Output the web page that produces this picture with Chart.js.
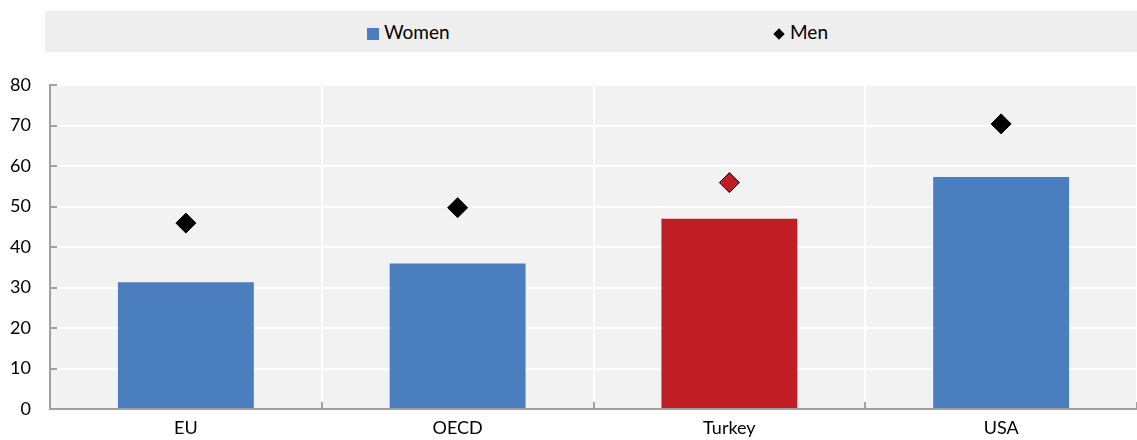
<!DOCTYPE html>
<html>
<head>
<meta charset="utf-8">
<script src="https://cdn.jsdelivr.net/npm/chart.js@4.4.1/dist/chart.umd.min.js"></script>
<style>
  body { margin: 0; background: #fff; font-family: Lato, "Open Sans", sans-serif; overflow: hidden; }
  #wrap { position: relative; width: 1137px; height: 440px; }
  #legend {
    position: absolute; left: 45px; top: 11px; width: 1092px; height: 41px;
    background: #eeeeee; font-size: 19px; color: #000;
  }
  .item { position: absolute; top: 0; height: 41px; line-height: 41px; }
  .sq { display: inline-block; width: 12px; height: 12px; background: #4a7ebf; margin-right: 5px; vertical-align: -1px; }
  .dia { display: inline-block; width: 8px; height: 8px; background: #000; transform: rotate(45deg); margin: 0 7px 0 2px; vertical-align: 1px; }
</style>
</head>
<body>
<div id="wrap">
  <canvas id="chart" width="1137" height="440"></canvas>
  <div id="legend">
    <div class="item" style="left:322px"><span class="sq"></span>Women</div>
    <div class="item" style="left:728px"><span class="dia"></span>Men</div>
  </div>
</div>
<script>
const categories = ["EU", "OECD", "Turkey", "USA"];
const women = [31.3, 35.9, 47.0, 57.3];
const men = [45.9, 49.7, 55.9, 70.4];
const yTicks = [0, 10, 20, 30, 40, 50, 60, 70, 80];

const blue = "#4a7ebf";
const red = "#be1e24";
const highlight = "Turkey";

const barColors = categories.map(c => (c === highlight ? red : blue));
const pointColors = categories.map(c => (c === highlight ? red : "#000"));

// grey plot background plus short inside tick marks on both axes
const plotDecor = {
  id: "plotDecor",
  beforeDraw(chart) {
    const { ctx, chartArea: a } = chart;
    ctx.save();
    ctx.fillStyle = "#f2f2f2";
    ctx.fillRect(a.left, a.top, a.right - a.left, a.bottom - a.top);
    ctx.restore();
  },
  afterDatasetsDraw(chart) {
    const { ctx, chartArea: a, scales } = chart;
    ctx.save();
    ctx.strokeStyle = "#a0a0a0";
    ctx.lineWidth = 2;
    ctx.beginPath();
    yTicks.forEach(v => {
      const y = Math.round(scales.y.getPixelForValue(v));
      ctx.moveTo(a.left, y);
      ctx.lineTo(a.left + 7, y);
    });
    for (let i = 0; i <= categories.length; i++) {
      const x = Math.round(scales.x.getPixelForValue(i - 0.5));
      ctx.moveTo(x, a.bottom);
      ctx.lineTo(x, a.bottom - 7);
    }
    ctx.stroke();
    ctx.restore();
  }
};

new Chart(document.getElementById("chart"), {
  data: {
    labels: categories,
    datasets: [
      {
        type: "line",
        label: "Men",
        data: men,
        showLine: false,
        pointStyle: "rectRot",
        pointRadius: 10,
        pointHoverRadius: 10,
        pointBackgroundColor: pointColors,
        pointBorderColor: "#000",
        pointBorderWidth: 1,
        order: 0
      },
      {
        type: "bar",
        label: "Women",
        data: women,
        backgroundColor: barColors,
        categoryPercentage: 1,
        barPercentage: 0.5,
        order: 1
      }
    ]
  },
  options: {
    responsive: false,
    animation: false,
    layout: { autoPadding: false, padding: { top: 85, right: -3, left: 0, bottom: 0 } },
    plugins: {
      legend: { display: false },
      tooltip: { enabled: false }
    },
    scales: {
      x: {
        grid: { color: "#ffffff", lineWidth: 2, offset: true, drawTicks: false },
        border: { color: "#a0a0a0", width: 2 },
        ticks: { color: "#000", font: { family: "Lato", size: 18 }, padding: 8 },
        afterFit: s => { s.height = 31; }
      },
      y: {
        min: 0,
        max: 80,
        afterBuildTicks: s => { s.ticks = yTicks.map(v => ({ value: v })); },
        grid: { color: "#ffffff", lineWidth: 2, drawTicks: false },
        border: { color: "#a0a0a0", width: 2 },
        ticks: { color: "#000", font: { family: "Lato", size: 18 }, padding: 19 },
        afterFit: s => { s.width = 50; }
      }
    }
  },
  plugins: [plotDecor]
});
</script>
</body>
</html>
